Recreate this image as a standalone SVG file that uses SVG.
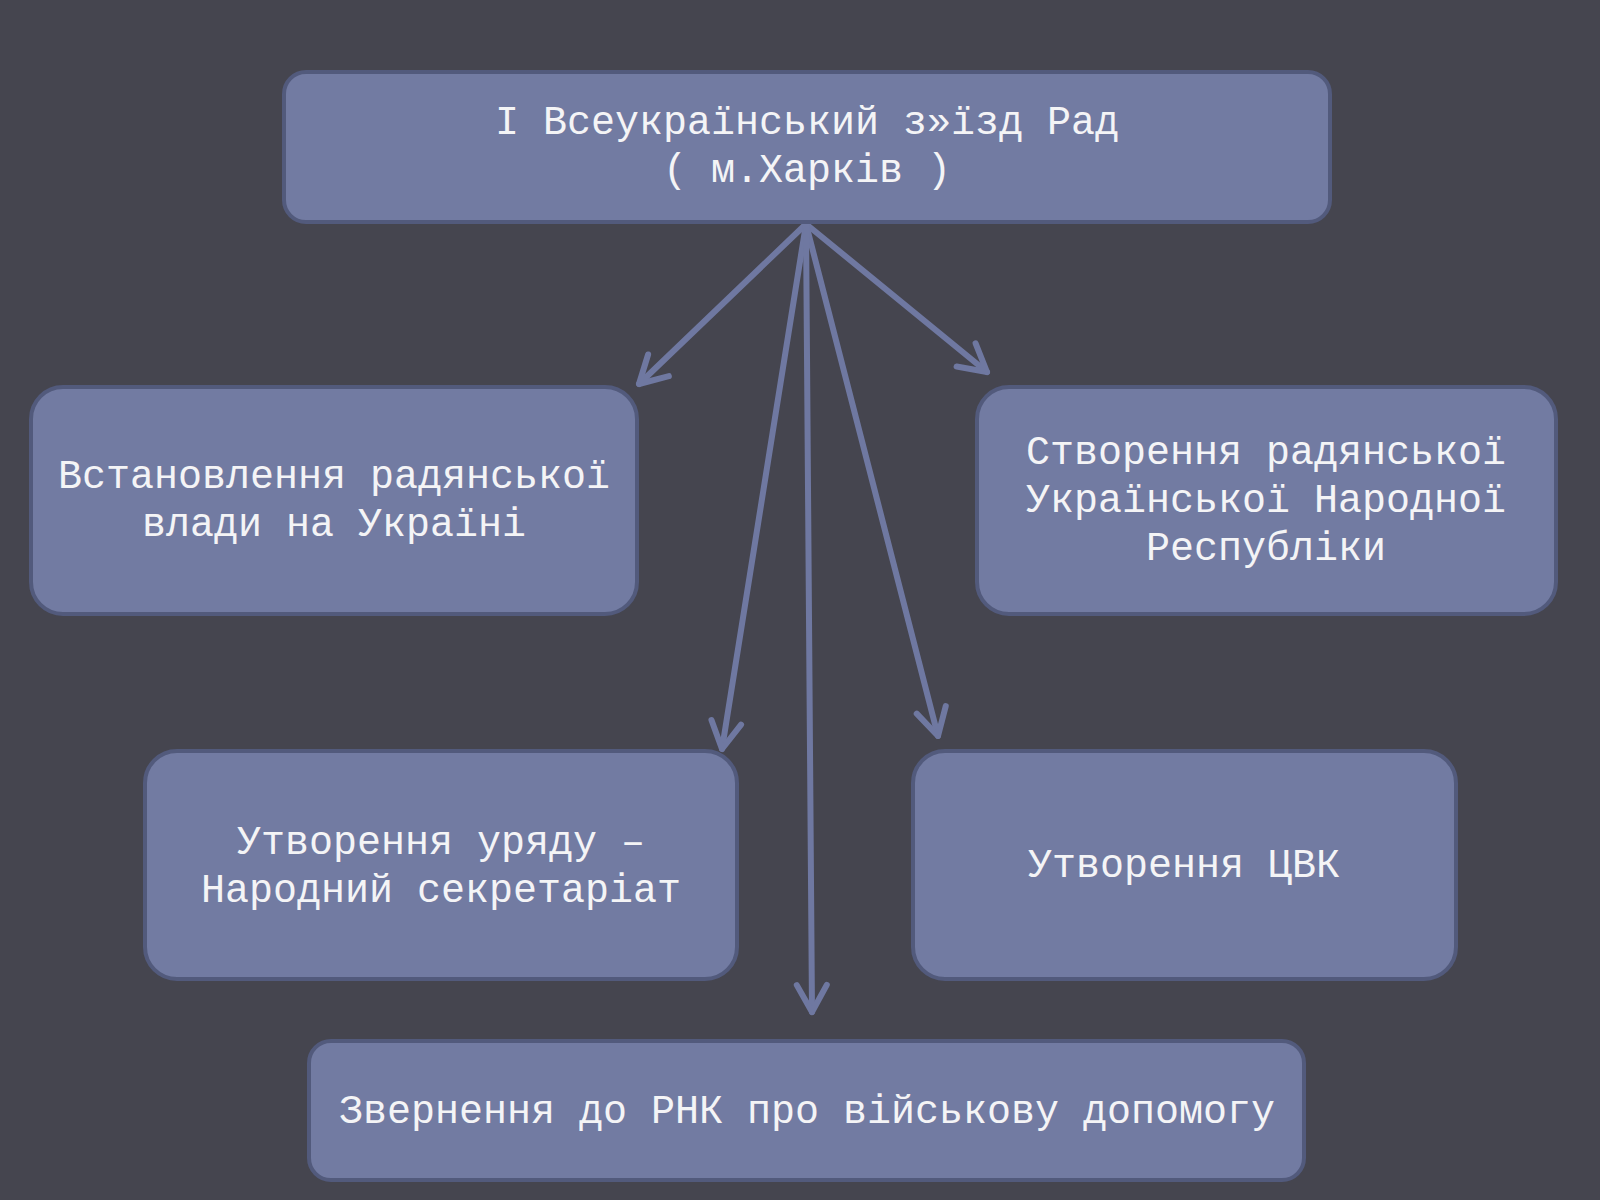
<svg xmlns="http://www.w3.org/2000/svg" width="1600" height="1200" viewBox="0 0 1600 1200">
<style>
.box{fill:#727ba2;stroke:#525a7c;stroke-width:4}
.t{font-family:"Liberation Mono","Courier New",monospace;font-size:40px;fill:#f4f4f6;text-anchor:middle}
.c{stroke:#6f78a1;stroke-width:6;fill:none;stroke-linecap:round}
</style>
<defs>
<marker id="ah" markerUnits="userSpaceOnUse" markerWidth="60" markerHeight="60" refX="0" refY="0" orient="auto" viewBox="-40 -30 60 60" overflow="visible">
<path d="M -27 -15 L 0 0 L -27 15" fill="none" stroke="#6f78a1" stroke-width="6" stroke-linecap="round" stroke-linejoin="round"/>
</marker>
</defs>
<rect width="1600" height="1200" fill="#45454f"/>
<g id="connectors">
<line class="c" x1="806" y1="224" x2="639" y2="384" marker-end="url(#ah)"/>
<line class="c" x1="806" y1="224" x2="987" y2="372" marker-end="url(#ah)"/>
<line class="c" x1="806" y1="224" x2="722" y2="749" marker-end="url(#ah)"/>
<line class="c" x1="806" y1="224" x2="938" y2="736" marker-end="url(#ah)"/>
<line class="c" x1="806" y1="224" x2="812" y2="1012" marker-end="url(#ah)"/>
</g>
<g id="n1">
<rect class="box" x="284" y="72" width="1046" height="150" rx="22"/>
<text class="t" x="807" y="134">I Всеукраїнський з»їзд Рад</text>
<text class="t" x="807" y="182">( м.Харків )</text>
</g>
<g id="n2">
<rect class="box" x="31" y="387" width="606" height="227" rx="32"/>
<text class="t" x="334" y="488">Встановлення радянської</text>
<text class="t" x="334" y="536">влади на Україні</text>
</g>
<g id="n3">
<rect class="box" x="977" y="387" width="579" height="227" rx="32"/>
<text class="t" x="1266" y="464">Створення радянської</text>
<text class="t" x="1266" y="512">Української Народної</text>
<text class="t" x="1266" y="560">Республіки</text>
</g>
<g id="n4">
<rect class="box" x="145" y="751" width="592" height="228" rx="32"/>
<text class="t" x="441" y="854">Утворення уряду –</text>
<text class="t" x="441" y="902">Народний секретаріат</text>
</g>
<g id="n5">
<rect class="box" x="913" y="751" width="543" height="228" rx="32"/>
<text class="t" x="1184" y="877">Утворення ЦВК</text>
</g>
<g id="n6">
<rect class="box" x="309" y="1041" width="995" height="139" rx="22"/>
<text class="t" x="807" y="1123">Звернення до РНК про військову допомогу</text>
</g>
</svg>
